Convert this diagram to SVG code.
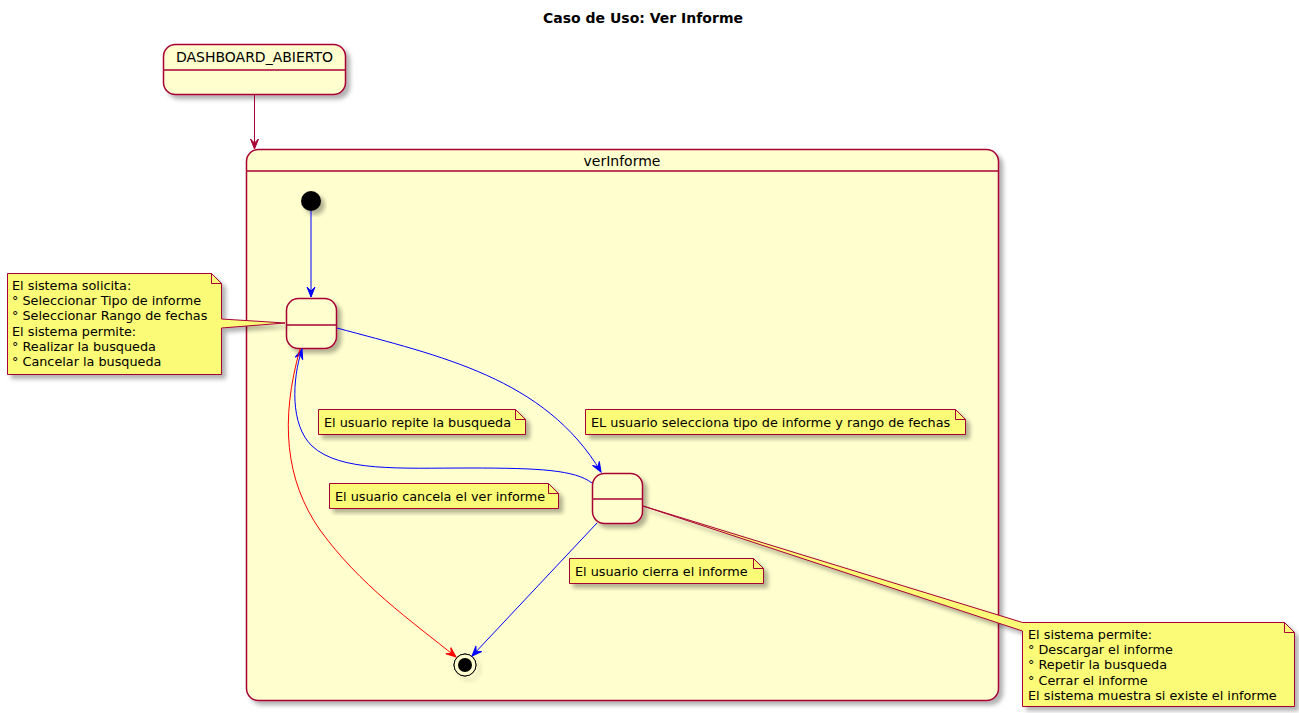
<svg xmlns="http://www.w3.org/2000/svg" width="1299" height="713" viewBox="0 0 1299 713">
<style>
text{font-family:"DejaVu Sans","Liberation Sans",sans-serif;fill:#000}
.st{fill:#FEFECE;stroke:#A80036;stroke-width:1.5}
.dv{stroke:#A80036;stroke-width:1.5}
.nt{fill:#FBFB77;stroke:#A80036;stroke-width:1}
.fold{fill:none;stroke:#A80036;stroke-width:1}
.nm{font-size:14px}
.ntx{font-size:12.8px}
.c{fill:none;stroke-width:1}
</style>
<defs>
<filter id="sh" x="-20%" y="-20%" width="150%" height="150%">
<feDropShadow dx="4" dy="4" stdDeviation="2" flood-color="#000" flood-opacity="0.3"/>
</filter>
<marker id="mb" viewBox="-12 -6 13 12" refX="0" refY="0" markerWidth="13" markerHeight="12" markerUnits="userSpaceOnUse" orient="auto"><path d="M0,0 L-10,-4 L-6,0 L-10,4 Z" fill="#0000FF" stroke="#0000FF"/></marker>
<marker id="mr" viewBox="-12 -6 13 12" refX="0" refY="0" markerWidth="13" markerHeight="12" markerUnits="userSpaceOnUse" orient="auto"><path d="M0,0 L-10,-4 L-6,0 L-10,4 Z" fill="#FF0000" stroke="#FF0000"/></marker>
<marker id="mc" viewBox="-12 -6 13 12" refX="0" refY="0" markerWidth="13" markerHeight="12" markerUnits="userSpaceOnUse" orient="auto"><path d="M0,0 L-10,-4 L-6,0 L-10,4 Z" fill="#A80036" stroke="#A80036"/></marker>
</defs>
<rect width="1299" height="713" fill="#FFFFFF"/>
<text x="643" y="23" text-anchor="middle" font-size="14" font-weight="bold">Caso de Uso: Ver Informe</text>

<g id="DASHBOARD_ABIERTO">
<rect class="st" x="163.5" y="44.5" width="182" height="50" rx="12" filter="url(#sh)"/>
<line class="dv" x1="163.5" y1="70" x2="345.5" y2="70"/>
<text class="nm" x="254.5" y="62" text-anchor="middle">DASHBOARD_ABIERTO</text>
</g>

<g id="verInforme">
<rect class="st" x="246.5" y="149.5" width="752" height="551" rx="12" filter="url(#sh)"/>
<line class="dv" x1="246.5" y1="171" x2="998.5" y2="171"/>
<text class="nm" x="622" y="166" text-anchor="middle">verInforme</text>
</g>

<g id="initial">
<circle cx="311" cy="201" r="10" fill="#000" filter="url(#sh)"/>
</g>

<g id="state1">
<rect class="st" x="286.5" y="298.5" width="50" height="50" rx="12" filter="url(#sh)"/>
<line class="dv" x1="286.5" y1="325" x2="336.5" y2="325"/>
</g>

<g id="state2">
<rect class="st" x="592.5" y="473.5" width="50" height="50" rx="12" filter="url(#sh)"/>
<line class="dv" x1="592.5" y1="499" x2="642.5" y2="499"/>
</g>

<g id="final">
<circle cx="465" cy="665" r="11" fill="none" stroke="#000" stroke-width="1" filter="url(#sh)"/>
<circle cx="465" cy="665" r="11" fill="#FEFECE" stroke="#000" stroke-width="1"/>
<circle cx="465" cy="665" r="7" fill="#000"/>
</g>

<g id="connectors">
<line class="c" x1="254.5" y1="95" x2="254.5" y2="149" stroke="#A80036" marker-end="url(#mc)"/>
<line class="c" x1="311" y1="211" x2="311" y2="297" stroke="#0000FF" marker-end="url(#mb)"/>
<path class="c" d="M337,328 C440,356 545,378 601,472" stroke="#0000FF" marker-end="url(#mb)"/>
<path class="c" d="M592,483 C575,470 540,468 470,468 C400,468 340,472 312,446 C290,425 292,380 302,349" stroke="#0000FF" marker-end="url(#mb)"/>
<path class="c" d="M300,349 C280,420 285,480 320,530 C360,585 410,620 456,657" stroke="#FF0000" marker-end="url(#mr)"/>
<line class="c" x1="597" y1="523" x2="472" y2="656" stroke="#0000FF" marker-end="url(#mb)"/>
</g>

<g id="note-solicita">
<path class="nt" d="M7.5,273.5 L211.5,273.5 L221.5,283.5 L221.5,319 L285,323 L221.5,328 L221.5,374.5 L7.5,374.5 Z" filter="url(#sh)"/>
<path class="fold" d="M211.5,273.5 L211.5,283.5 L221.5,283.5"/>
<text class="ntx" x="12" y="289.5">El sistema solicita:</text>
<text class="ntx" x="12" y="305">° Seleccionar Tipo de informe</text>
<text class="ntx" x="12" y="320.3">° Seleccionar Rango de fechas</text>
<text class="ntx" x="12" y="335.6">El sistema permite:</text>
<text class="ntx" x="12" y="351">° Realizar la busqueda</text>
<text class="ntx" x="12" y="366.3">° Cancelar la busqueda</text>
</g>

<g id="note-repite">
<path class="nt" d="M318.5,409.5 L515.5,409.5 L525.5,419.5 L525.5,434.5 L318.5,434.5 Z" filter="url(#sh)"/>
<path class="fold" d="M515.5,409.5 L515.5,419.5 L525.5,419.5"/>
<text class="ntx" x="324" y="426.5">El usuario repite la busqueda</text>
</g>

<g id="note-selecciona">
<path class="nt" d="M585.5,409.5 L955.5,409.5 L965.5,419.5 L965.5,434.5 L585.5,434.5 Z" filter="url(#sh)"/>
<path class="fold" d="M955.5,409.5 L955.5,419.5 L965.5,419.5"/>
<text class="ntx" x="591" y="426.5">EL usuario selecciona tipo de informe y rango de fechas</text>
</g>

<g id="note-cancela">
<path class="nt" d="M329.5,483.5 L548.5,483.5 L558.5,493.5 L558.5,508.5 L329.5,508.5 Z" filter="url(#sh)"/>
<path class="fold" d="M548.5,483.5 L548.5,493.5 L558.5,493.5"/>
<text class="ntx" x="335" y="500.5">El usuario cancela el ver informe</text>
</g>

<g id="note-cierra">
<path class="nt" d="M569.5,558.5 L753.5,558.5 L763.5,568.5 L763.5,583.5 L569.5,583.5 Z" filter="url(#sh)"/>
<path class="fold" d="M753.5,558.5 L753.5,568.5 L763.5,568.5"/>
<text class="ntx" x="575" y="575.5">El usuario cierra el informe</text>
</g>

<g id="note-permite">
<path class="nt" d="M1022.5,622.5 L643,506 L1022.5,631 L1022.5,706.5 L1294.5,706.5 L1294.5,632.5 L1284.5,622.5 Z" filter="url(#sh)"/>
<path class="fold" d="M1284.5,622.5 L1284.5,632.5 L1294.5,632.5"/>
<text class="ntx" x="1028" y="638.5">El sistema permite:</text>
<text class="ntx" x="1028" y="654">° Descargar el informe</text>
<text class="ntx" x="1028" y="669.3">° Repetir la busqueda</text>
<text class="ntx" x="1028" y="684.6">° Cerrar el informe</text>
<text class="ntx" x="1028" y="700">El sistema muestra si existe el informe</text>
</g>
</svg>
